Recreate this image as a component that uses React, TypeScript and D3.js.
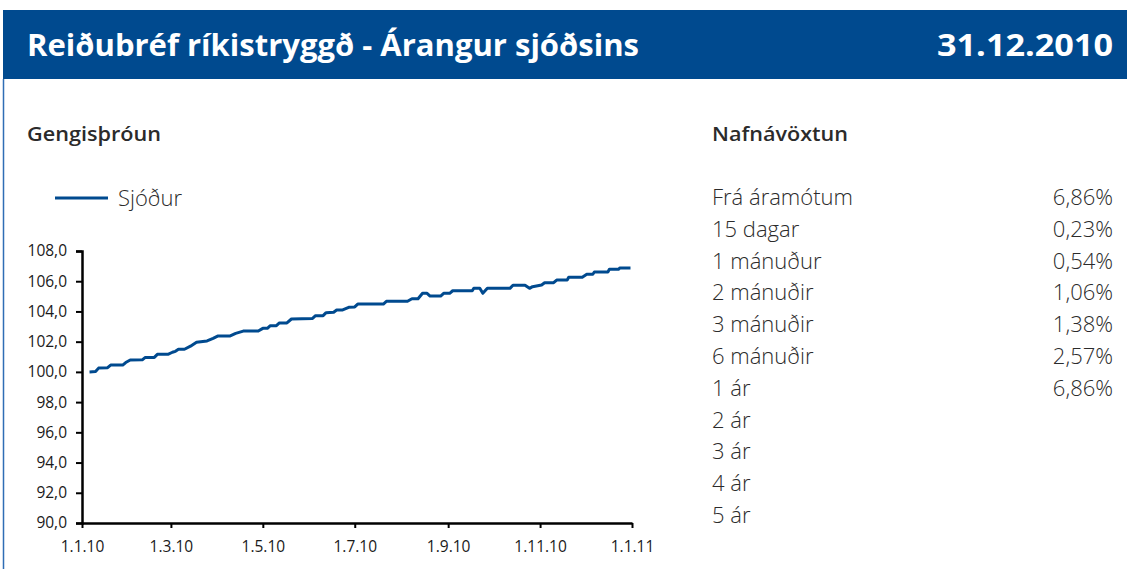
import React, { useEffect, useRef } from "react";
import * as d3 from "d3";

// Gengisþróun – fund price through 2010
const dates = [
  "2010-01-06", "2010-01-10", "2010-01-12", "2010-01-18", "2010-01-20", "2010-01-28",
  "2010-01-30", "2010-02-02", "2010-02-10", "2010-02-12", "2010-02-18", "2010-02-20",
  "2010-02-27", "2010-03-02", "2010-03-04", "2010-03-06", "2010-03-10", "2010-03-14",
  "2010-03-18", "2010-03-25", "2010-03-29", "2010-04-01", "2010-04-09", "2010-04-13",
  "2010-04-18", "2010-04-28", "2010-05-01", "2010-05-04", "2010-05-06", "2010-05-10",
  "2010-05-12", "2010-05-17", "2010-05-20", "2010-06-03", "2010-06-05", "2010-06-10",
  "2010-06-12", "2010-06-17", "2010-06-19", "2010-06-23", "2010-06-27", "2010-07-01",
  "2010-07-03", "2010-07-20", "2010-07-22", "2010-08-05", "2010-08-08", "2010-08-12",
  "2010-08-15", "2010-08-18", "2010-08-20", "2010-08-27", "2010-08-29", "2010-09-02",
  "2010-09-04", "2010-09-17", "2010-09-18", "2010-09-22", "2010-09-24", "2010-09-27",
  "2010-10-12", "2010-10-14", "2010-10-22", "2010-10-25", "2010-10-27", "2010-11-02",
  "2010-11-04", "2010-11-10", "2010-11-12", "2010-11-19", "2010-11-20", "2010-11-29",
  "2010-12-02", "2010-12-06", "2010-12-07", "2010-12-16", "2010-12-17", "2010-12-23",
  "2010-12-24", "2010-12-31",
];
const prices = [
  100.0, 100.02, 100.25, 100.28, 100.45, 100.45,
  100.62, 100.79, 100.8, 100.96, 100.96, 101.16,
  101.16, 101.3, 101.36, 101.5, 101.5, 101.7,
  101.96, 102.05, 102.22, 102.37, 102.37, 102.55,
  102.7, 102.7, 102.88, 102.88, 103.06, 103.06,
  103.24, 103.24, 103.5, 103.54, 103.72, 103.72,
  103.92, 103.95, 104.1, 104.1, 104.27, 104.3,
  104.49, 104.49, 104.67, 104.67, 104.84, 104.84,
  105.2, 105.2, 105.02, 105.02, 105.2, 105.2,
  105.37, 105.37, 105.53, 105.53, 105.2, 105.53,
  105.53, 105.73, 105.73, 105.53, 105.64, 105.75,
  105.9, 105.9, 106.08, 106.08, 106.26, 106.26,
  106.46, 106.46, 106.61, 106.61, 106.79, 106.79,
  106.88, 106.88,
];

const yTicks = [90, 92, 94, 96, 98, 100, 102, 104, 106, 108];
const xTickDates = ["2010-01-01", "2010-03-01", "2010-05-01", "2010-07-01", "2010-09-01", "2010-11-01", "2011-01-01"];
const xTickLabels = ["1.1.10", "1.3.10", "1.5.10", "1.7.10", "1.9.10", "1.11.10", "1.1.11"];

// Nafnávöxtun table
const periods = ["Frá áramótum", "15 dagar", "1 mánuður", "2 mánuðir", "3 mánuðir", "6 mánuðir", "1 ár", "2 ár", "3 ár", "4 ár", "5 ár"];
const returns = ["6,86%", "0,23%", "0,54%", "1,06%", "1,38%", "2,57%", "6,86%", "", "", "", ""];

const title = "Reiðubréf ríkistryggð - Árangur sjóðsins";
const reportDate = "31.12.2010";
const seriesName = "Sjóður";

const BLUE = "#004a8f";
const TEXT = "#2b2b2b";
const FONT = "'Open Sans', 'Noto Sans', sans-serif";

const App = () => {
  const svgRef = useRef<SVGSVGElement>(null);

  useEffect(() => {
    const width = 1127,
      height = 569;
    const plot = { left: 82, right: 632, top: 251, bottom: 523 };

    const svg = d3.select(svgRef.current).attr("width", width).attr("height", height);
    svg.selectAll("*").remove();

    const parse = d3.timeParse("%Y-%m-%d");
    const data = dates.map((d, i) => ({ date: parse(d) as Date, value: prices[i] }));

    // header band
    svg.append("rect").attr("x", 3).attr("y", 10).attr("width", width - 3).attr("height", 69).attr("fill", BLUE);
    svg.append("line").attr("x1", 3.5).attr("x2", 3.5).attr("y1", 79).attr("y2", height)
      .attr("stroke", "#2f6db5").attr("stroke-width", 1.5);

    svg.append("text").attr("x", 27).attr("y", 56).attr("fill", "#fff")
      .attr("font-family", FONT).attr("font-weight", 700).attr("font-size", 31)
      .attr("textLength", 612).attr("lengthAdjust", "spacingAndGlyphs").text(title);
    svg.append("text").attr("x", 1113).attr("y", 56).attr("fill", "#fff").attr("text-anchor", "end")
      .attr("font-family", FONT).attr("font-weight", 700).attr("font-size", 31)
      .attr("textLength", 176).attr("lengthAdjust", "spacingAndGlyphs").text(reportDate);

    // section headings
    svg.append("text").attr("x", 27).attr("y", 141).attr("fill", TEXT)
      .attr("font-family", FONT).attr("font-weight", 600).attr("font-size", 20)
      .attr("textLength", 134).attr("lengthAdjust", "spacingAndGlyphs").text("Gengisþróun");
    svg.append("text").attr("x", 712).attr("y", 141).attr("fill", TEXT)
      .attr("font-family", FONT).attr("font-weight", 600).attr("font-size", 20)
      .attr("textLength", 136).attr("lengthAdjust", "spacingAndGlyphs").text("Nafnávöxtun");

    // legend
    svg.append("line").attr("x1", 55).attr("x2", 108).attr("y1", 198).attr("y2", 198)
      .attr("stroke", BLUE).attr("stroke-width", 3);
    svg.append("text").attr("x", 118).attr("y", 206).attr("fill", TEXT)
      .attr("font-family", FONT).attr("font-weight", 300).attr("font-size", 22).text(seriesName);

    // scales
    const x = d3.scaleTime()
      .domain([parse(xTickDates[0]) as Date, parse(xTickDates[xTickDates.length - 1]) as Date])
      .range([plot.left, plot.right]);
    const y = d3.scaleLinear().domain([90, 108]).range([plot.bottom, plot.top]);

    // y axis
    const yAxis = svg.append("g").attr("transform", `translate(${plot.left},0)`)
      .call(d3.axisLeft(y).tickValues(yTicks).tickSize(6).tickPadding(9)
        .tickFormat((d) => d3.format(".1f")(d as number).replace(".", ",")));
    yAxis.select(".domain").attr("stroke", "#000").attr("stroke-width", 2.5);
    yAxis.selectAll(".tick line").attr("stroke", "#000").attr("stroke-width", 2);
    yAxis.selectAll(".tick text").attr("fill", "#1a1a1a").attr("font-family", FONT).attr("font-size", 15.5);

    // x axis
    const xAxis = svg.append("g").attr("transform", `translate(0,${plot.bottom})`)
      .call(d3.axisBottom(x).tickValues(xTickDates.map((d) => parse(d) as Date)).tickSize(5).tickPadding(13)
        .tickSizeOuter(0)
        .tickFormat((_, i) => xTickLabels[i]));
    xAxis.select(".domain").attr("stroke", "#000").attr("stroke-width", 2.5);
    xAxis.selectAll(".tick line").attr("stroke", "#000").attr("stroke-width", 2);
    xAxis.selectAll(".tick text").attr("fill", "#1a1a1a").attr("font-family", FONT).attr("font-size", 15.5);

    // line
    const line = d3.line<{ date: Date; value: number }>()
      .x((d) => x(d.date))
      .y((d) => y(d.value));
    svg.append("path").datum(data).attr("d", line).attr("fill", "none")
      .attr("stroke", BLUE).attr("stroke-width", 3).attr("stroke-linejoin", "round");

    // returns table
    const rowY = d3.scalePoint().domain(periods).range([205, 523]);
    const rows = svg.append("g").attr("font-family", FONT).attr("font-size", 22)
      .attr("font-weight", 300).attr("fill", TEXT);
    rows.selectAll("text.lbl").data(periods).join("text").attr("class", "lbl")
      .attr("x", 712).attr("y", (d) => rowY(d) as number).text((d) => d);
    rows.selectAll("text.val").data(periods).join("text").attr("class", "val")
      .attr("x", 1113).attr("y", (d) => rowY(d) as number).attr("text-anchor", "end")
      .text((_, i) => returns[i]);
  }, []);

  return <svg ref={svgRef} style={{ position: "absolute", left: 0, top: 0, background: "#fff" }}></svg>;
};

export default App;
